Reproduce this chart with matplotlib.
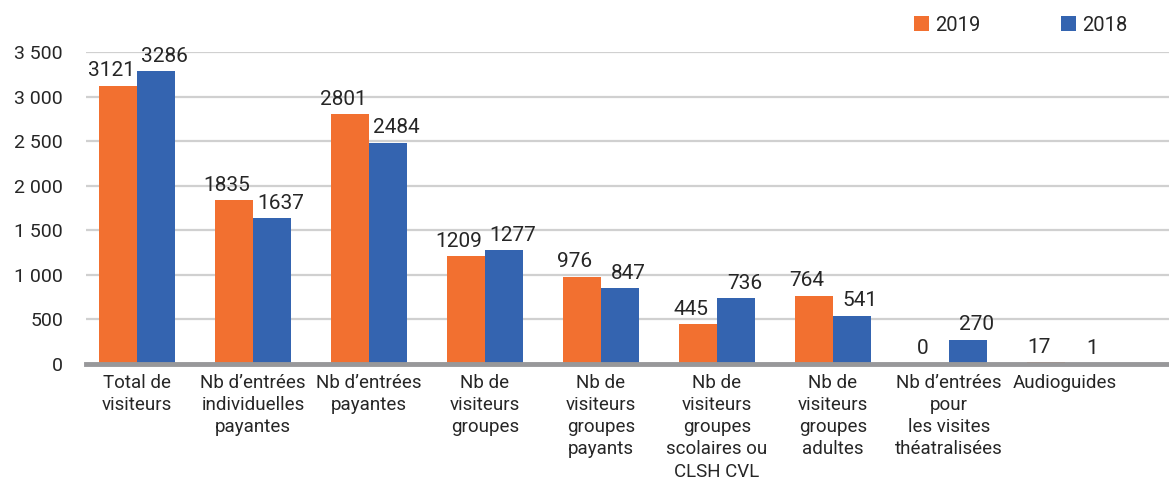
import matplotlib
matplotlib.use("Agg")
import matplotlib.pyplot as plt
import numpy as np

plt.rcParams['font.family'] = ['Roboto', 'DejaVu Sans']

categories = [
    "Total de\nvisiteurs",
    "Nb d’entrées\nindividuelles\npayantes",
    "Nb d’entrées\npayantes",
    "Nb de\nvisiteurs\ngroupes",
    "Nb de\nvisiteurs\ngroupes\npayants",
    "Nb de\nvisiteurs\ngroupes\nscolaires ou\nCLSH CVL",
    "Nb de\nvisiteurs\ngroupes\nadultes",
    "Nb d’entrées\npour\nles visites\nthéatralisées",
    "Audioguides",
]
values_2019 = [3121, 1835, 2801, 1209, 976, 445, 764, 0, 17]
values_2018 = [3286, 1637, 2484, 1277, 847, 736, 541, 270, 1]
yticks = [0, 500, 1000, 1500, 2000, 2500, 3000, 3500]
ytick_labels = ["0", "500", "1 000", "1 500", "2 000", "2 500", "3 000", "3 500"]

c19 = "#F27030"
c18 = "#3464B0"
txt = "#262626"

fig = plt.figure(figsize=(11.69, 4.92), dpi=100)
ax = fig.add_axes([86 / 1169, 1 - 364 / 492, 1 - 86 / 1169, (364 - 52) / 492])

x = np.arange(len(categories))
w = 0.328
b1 = ax.bar(x - w / 2, values_2019, w, color=c19, label="2019", zorder=3)
b2 = ax.bar(x + w / 2, values_2018, w, color=c18, label="2018", zorder=3)

for xi, v in zip(x, values_2019):
    ax.annotate(str(v), (xi - w / 2, v), xytext=(-5, 4), textcoords="offset points",
                ha="center", va="bottom", fontsize=15, color=txt)
for xi, v in zip(x, values_2018):
    ax.annotate(str(v), (xi + w / 2, v), xytext=(6, 4), textcoords="offset points",
                ha="center", va="bottom", fontsize=15, color=txt)

ax.set_xlim(-0.44, 8.897)
ax.set_ylim(0, 3500)
ax.set_yticks(yticks)
ax.set_yticklabels(ytick_labels, fontsize=14, color=txt)
ax.set_xticks(x)
ax.set_xticklabels(categories, fontsize=13.5, color=txt, linespacing=1.3, va="top")
ax.tick_params(axis="both", length=0)
ax.tick_params(axis="y", pad=16.5)
ax.tick_params(axis="x", pad=7)
ax.yaxis.grid(True, color="#D0D0D0", linewidth=1.6, zorder=0)
for s in ["top", "right", "left"]:
    ax.spines[s].set_visible(False)
ax.spines["bottom"].set_color("#98989A")
ax.spines["bottom"].set_linewidth(3.5)
ax.spines["bottom"].set_zorder(6)

leg = fig.legend(handles=[b1, b2], labels=["2019", "2018"], loc="upper left",
                 bbox_to_anchor=(0.766, 1.005), ncol=2, frameon=False, fontsize=14.5,
                 handlelength=0.75, handleheight=0.75, handletextpad=0.3, columnspacing=4.0)
for t in leg.get_texts():
    t.set_color(txt)

fig.savefig("out.png", dpi=100)
